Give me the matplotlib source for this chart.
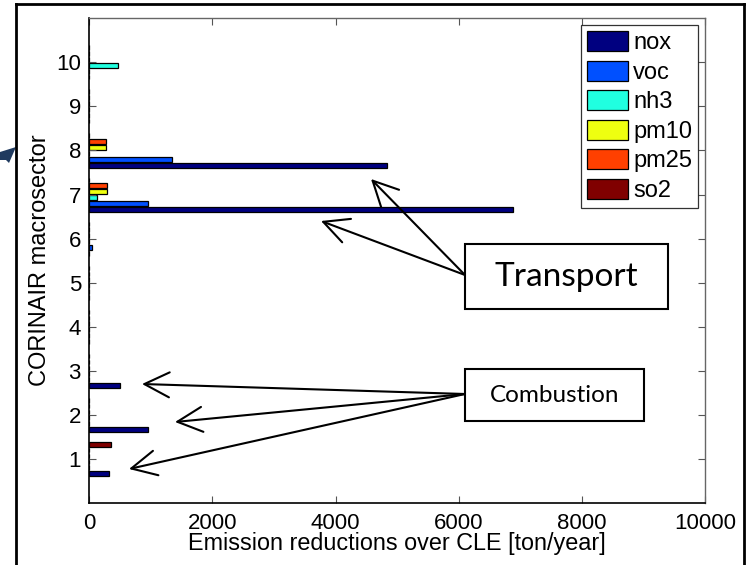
#!/usr/bin/env python3
"""
Emission reductions over CLE per CORINAIR macrosector (grouped barh, MATLAB style)
"""

import numpy as np
import matplotlib
matplotlib.use('Agg')
import matplotlib.pyplot as plt
from matplotlib.patches import Rectangle, Polygon, FancyArrowPatch

plt.rcParams['font.family'] = ['Liberation Sans', 'DejaVu Sans']

# Data (ton/year), one list per pollutant, index = macrosector 1..10
sectors = [1, 2, 3, 4, 5, 6, 7, 8, 9, 10]
pollutants = ['nox', 'voc', 'nh3', 'pm10', 'pm25', 'so2']
nox = [320, 960, 500, 0, 0, 0, 6880, 4840, 0, 0]
voc = [0, 0, 0, 0, 0, 50, 950, 1340, 0, 0]
nh3 = [0, 0, 0, 0, 0, 0, 120, 0, 0, 460]
pm10 = [0, 0, 0, 0, 0, 0, 285, 270, 0, 0]
pm25 = [0, 0, 0, 0, 0, 0, 285, 270, 0, 0]
so2 = [350, 0, 0, 0, 0, 0, 0, 0, 0, 0]

colours = ['#000080', '#0050FF', '#20FFE0', '#EEFF10', '#FF4000', '#800000']

W, H = 748, 565


def fig_xy(px, py):
    """image pixel (top-left origin) -> figure fraction"""
    return px / W, 1 - py / H


def main():
    fig = plt.figure(figsize=(W / 100, H / 100), dpi=100)
    fig.patch.set_facecolor('white')

    l, b = fig_xy(89.3, 503)
    r, t = fig_xy(705, 18.3)
    ax = fig.add_axes([l, b, r - l, t - b])

    series = [nox, voc, nh3, pm10, pm25, so2]
    n = len(series)
    group_w = min(0.8, n / (n + 1.5))
    bar_h = group_w / n * 0.8
    y = np.array(sectors, dtype=float)
    for i, (vals, name, c) in enumerate(zip(series, pollutants, colours)):
        off = -group_w / 2 + group_w / (2 * n) + i * group_w / n
        ax.barh(y + off, vals, height=bar_h, color=c, edgecolor='black',
                linewidth=0.9, label=name)

    ax.set_xlim(0, 10000)
    ax.set_ylim(0, 11)
    ax.set_xticks([0, 2000, 4000, 6000, 8000, 10000])
    ax.set_yticks(sectors)
    ax.tick_params(direction='in', length=5, width=0.8, labelsize=16,
                   top=True, right=True, color='#555555')
    ax.tick_params(axis='x', pad=7)
    ax.tick_params(axis='y', pad=6)
    for side in ['left', 'bottom']:
        ax.spines[side].set_color('black')
        ax.spines[side].set_linewidth(1.2)
    for side in ['top', 'right']:
        ax.spines[side].set_color('#666666')
        ax.spines[side].set_linewidth(1.0)

    ax.set_xlabel('Emission reductions over CLE [ton/year]', fontsize=16.8, labelpad=-1)
    ax.set_ylabel('CORINAIR macrosector', fontsize=17, labelpad=4)

    leg = ax.legend(loc='upper right', bbox_to_anchor=(0.9886, 0.986), fontsize=17,
                    frameon=True, fancybox=False, edgecolor='black',
                    handlelength=1.75, handleheight=0.93, handletextpad=0.2,
                    labelspacing=0.27, borderpad=0.25, borderaxespad=0.0)
    leg.get_frame().set_linewidth(0.9)

    # Annotation boxes
    box_font = ['Lato', 'DejaVu Sans']
    tx0, ty0 = fig_xy(465, 309)
    tx1, ty1 = fig_xy(668, 244)
    fig.patches.append(Rectangle((tx0, ty0), tx1 - tx0, ty1 - ty0, transform=fig.transFigure,
                                 facecolor='white', edgecolor='black', linewidth=1.5))
    fig.text((tx0 + tx1) / 2, (ty0 + ty1) / 2, 'Transport', fontsize=24, family=box_font,
             ha='center', va='center')

    cx0, cy0 = fig_xy(465, 421)
    cx1, cy1 = fig_xy(644, 369)
    fig.patches.append(Rectangle((cx0, cy0), cx1 - cx0, cy1 - cy0, transform=fig.transFigure,
                                 facecolor='white', edgecolor='black', linewidth=1.5))
    fig.text((cx0 + cx1) / 2, (cy0 + cy1) / 2, 'Combustion', fontsize=17.5, family=box_font,
             ha='center', va='center')

    # Arrows
    arrows = [((465, 275), (371, 179)), ((465, 275), (321, 221)),
              ((465, 394), (142, 384)), ((465, 394), (175, 422)), ((465, 394), (129, 469))]
    for (sx, sy), (ex, ey) in arrows:
        fig.add_artist(FancyArrowPatch(
            fig_xy(sx, sy), fig_xy(ex, ey), transform=fig.transFigure,
            arrowstyle='->,head_length=0.9,head_width=0.45', mutation_scale=20,
            color='black', linewidth=1.5, shrinkA=0, shrinkB=0))

    # Outer slide frame and leftover arrow tip
    fig.add_artist(plt.Line2D([16 / W, 16 / W], [0, 1 - 4 / H], transform=fig.transFigure,
                              color='black', linewidth=2))
    fig.add_artist(plt.Line2D([16 / W, 744 / W], [1 - 4 / H, 1 - 4 / H], transform=fig.transFigure,
                              color='black', linewidth=2))
    fig.add_artist(plt.Line2D([744 / W, 744 / W], [0, 1 - 4 / H], transform=fig.transFigure,
                              color='black', linewidth=2))
    tip = [fig_xy(0, 152), fig_xy(16, 147), fig_xy(9, 163), fig_xy(6, 160), fig_xy(0, 160)]
    fig.patches.append(Polygon(tip, closed=True, transform=fig.transFigure,
                               facecolor='#1F3A5F', edgecolor='none'))

    fig.savefig('out.png', dpi=100)
    plt.close(fig)


if __name__ == '__main__':
    main()
